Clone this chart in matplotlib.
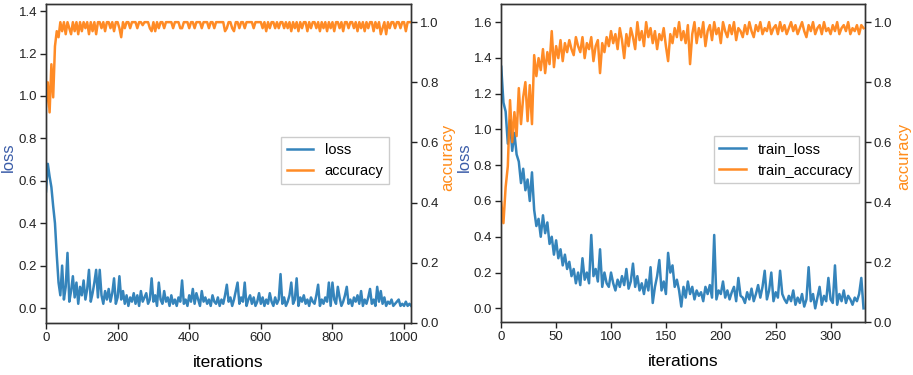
import numpy as np
import matplotlib.pyplot as plt

plt.rcParams['font.family'] = ['Liberation Sans', 'DejaVu Sans']

# left run: 1000+ iterations, read every 5 iterations
it_a = np.arange(0, 1021, 5)
loss_a = [
    0.55, 0.68, 0.62, 0.57, 0.48, 0.40, 0.25, 0.12, 0.06, 0.20,
    0.04, 0.10, 0.26, 0.03, 0.08, 0.15, 0.05, 0.12, 0.02, 0.10,
    0.06, 0.13, 0.04, 0.09, 0.18, 0.03, 0.07, 0.12, 0.18, 0.05,
    0.18, 0.06, 0.02, 0.08, 0.04, 0.09, 0.03, 0.07, 0.14, 0.02,
    0.05, 0.15, 0.04, 0.08, 0.02, 0.06, 0.01, 0.05, 0.03, 0.07,
    0.02, 0.06, 0.01, 0.08, 0.03, 0.05, 0.07, 0.02, 0.04, 0.14,
    0.03, 0.06, 0.01, 0.12, 0.04, 0.02, 0.08, 0.03, 0.05, 0.01,
    0.06, 0.02, 0.04, 0.01, 0.05, 0.03, 0.13, 0.02, 0.04, 0.01,
    0.06, 0.03, 0.09, 0.02, 0.07, 0.04, 0.01, 0.08, 0.03, 0.05,
    0.02, 0.04, 0.01, 0.06, 0.03, 0.02, 0.05, 0.01, 0.04, 0.02,
    0.06, 0.11, 0.03, 0.05, 0.01, 0.04, 0.08, 0.12, 0.02, 0.05,
    0.03, 0.12, 0.01, 0.04, 0.06, 0.02, 0.05, 0.01, 0.03, 0.07,
    0.02, 0.05, 0.01, 0.04, 0.02, 0.07, 0.03, 0.01, 0.05, 0.02,
    0.04, 0.16, 0.02, 0.05, 0.01, 0.03, 0.06, 0.12, 0.02, 0.04,
    0.14, 0.01, 0.05, 0.03, 0.06, 0.02, 0.04, 0.01, 0.05, 0.03,
    0.02, 0.06, 0.11, 0.01, 0.04, 0.02, 0.05, 0.03, 0.12, 0.01,
    0.12, 0.04, 0.02, 0.10, 0.05, 0.01, 0.03, 0.06, 0.10, 0.02,
    0.04, 0.01, 0.05, 0.03, 0.06, 0.02, 0.08, 0.01, 0.04, 0.02,
    0.05, 0.09, 0.02, 0.04, 0.01, 0.10, 0.03, 0.08, 0.02, 0.05,
    0.01, 0.03, 0.02, 0.04, 0.01, 0.02, 0.03, 0.04, 0.01, 0.02,
    0.01, 0.03, 0.01, 0.02, 0.01,
]
acc_a = [
    0.72, 0.80, 0.70, 0.86, 0.75, 0.92, 0.97, 0.95, 1.00, 0.97,
    1.00, 0.96, 1.00, 0.98, 0.96, 1.00, 0.97, 1.00, 0.96, 1.00,
    0.97, 1.00, 0.98, 1.00, 0.96, 1.00, 0.97, 1.00, 0.96, 1.00,
    1.00, 0.98, 1.00, 0.97, 1.00, 1.00, 0.98, 1.00, 0.97, 1.00,
    1.00, 0.98, 0.95, 1.00, 0.98, 1.00, 1.00, 0.98, 1.00, 1.00,
    1.00, 0.98, 1.00, 1.00, 0.99, 1.00, 1.00, 1.00, 0.98, 0.97,
    1.00, 0.97, 1.00, 0.98, 1.00, 1.00, 0.98, 1.00, 1.00, 1.00,
    1.00, 0.98, 1.00, 1.00, 1.00, 0.98, 0.98, 1.00, 1.00, 1.00,
    0.98, 1.00, 1.00, 0.98, 1.00, 1.00, 1.00, 0.98, 1.00, 1.00,
    1.00, 0.98, 1.00, 1.00, 0.98, 1.00, 1.00, 1.00, 1.00, 1.00,
    0.97, 0.98, 1.00, 1.00, 0.98, 0.97, 1.00, 1.00, 0.98, 1.00,
    1.00, 0.98, 1.00, 1.00, 1.00, 1.00, 0.98, 1.00, 1.00, 1.00,
    1.00, 0.98, 1.00, 0.97, 1.00, 0.98, 1.00, 1.00, 0.98, 1.00,
    0.98, 1.00, 1.00, 0.98, 1.00, 0.98, 1.00, 0.97, 1.00, 0.98,
    1.00, 0.97, 1.00, 0.98, 1.00, 1.00, 0.97, 1.00, 0.98, 1.00,
    1.00, 0.98, 1.00, 0.97, 1.00, 0.98, 1.00, 0.97, 1.00, 0.98,
    1.00, 0.97, 1.00, 1.00, 0.98, 1.00, 0.97, 1.00, 1.00, 0.98,
    1.00, 1.00, 0.98, 1.00, 0.97, 1.00, 0.98, 1.00, 0.97, 1.00,
    0.98, 1.00, 1.00, 0.97, 1.00, 0.98, 1.00, 0.96, 0.98, 1.00,
    0.96, 1.00, 0.98, 1.00, 1.00, 0.98, 1.00, 1.00, 0.98, 1.00,
    1.00, 0.97, 1.00, 1.00, 1.00,
]

# right run: ~330 iterations, read every 2 iterations
it_b = np.arange(0, 331, 2)
loss_b = [
    1.35, 1.15, 1.10, 0.92, 1.05, 0.88, 0.98, 0.86, 0.82, 0.70, 0.78,
    0.66, 0.72, 0.60, 0.76, 0.55, 0.46, 0.50, 0.40, 0.52, 0.42,
    0.48, 0.36, 0.40, 0.30, 0.38, 0.28, 0.33, 0.24, 0.30, 0.22,
    0.26, 0.18, 0.22, 0.14, 0.20, 0.13, 0.28, 0.16, 0.20, 0.14,
    0.41, 0.18, 0.22, 0.15, 0.33, 0.12, 0.20, 0.14, 0.12, 0.20,
    0.14, 0.10, 0.16, 0.12, 0.18, 0.13, 0.22, 0.11, 0.15, 0.25,
    0.12, 0.18, 0.10, 0.14, 0.08, 0.16, 0.10, 0.23, 0.03, 0.12,
    0.18, 0.27, 0.10, 0.15, 0.08, 0.31, 0.20, 0.24, 0.12, 0.16,
    0.10, 0.01, 0.12, 0.06, 0.15, 0.08, 0.12, 0.05, 0.10, 0.07,
    0.09, 0.04, 0.12, 0.08, 0.13, 0.06, 0.41, 0.05, 0.10, 0.08,
    0.15, 0.06, 0.10, 0.05, 0.09, 0.12, 0.04, 0.17, 0.07, 0.06,
    0.03, 0.09, 0.05, 0.11, 0.04, 0.08, 0.13, 0.06, 0.12, 0.21,
    0.05, 0.10, 0.20, 0.04, 0.09, 0.06, 0.21, 0.08, 0.05, 0.03,
    0.07, 0.04, 0.10, 0.02, 0.06, 0.03, 0.08, 0.01, 0.05, 0.23,
    0.04, 0.08, 0.00, 0.06, 0.12, 0.02, 0.07, 0.04, 0.17, 0.05,
    0.03, 0.24, 0.02, 0.08, 0.04, 0.10, 0.03, 0.07, 0.05, 0.02,
    0.06, 0.04, 0.08, 0.17, 0.00,
]
acc_b = [
    0.40, 0.33, 0.45, 0.52, 0.74, 0.60, 0.70, 0.62, 0.78, 0.66, 0.75,
    0.80, 0.67, 0.79, 0.66, 0.89, 0.82, 0.88, 0.84, 0.91, 0.83,
    0.90, 0.86, 0.97, 0.85, 0.92, 0.88, 0.94, 0.87, 0.93, 0.90,
    0.94, 0.91, 0.89, 0.95, 0.92, 0.90, 0.95, 0.88, 0.93, 0.91,
    0.95, 0.87, 0.92, 0.94, 0.83, 0.93, 0.90, 0.95, 0.92, 0.97,
    0.93, 0.96, 0.91, 0.98, 0.94, 0.88, 0.96, 0.92, 0.98, 0.95,
    0.91, 1.00, 0.94, 0.97, 0.92, 1.00, 0.95, 0.98, 0.93, 0.97,
    0.91, 0.96, 0.94, 0.98, 0.92, 0.87, 0.96, 0.93, 0.98, 0.95,
    1.00, 0.94, 0.97, 0.93, 0.99, 0.86, 0.96, 1.00, 0.93, 0.98,
    0.95, 1.00, 0.92, 0.97, 0.99, 0.94, 1.00, 0.96, 0.98, 0.93,
    1.00, 0.97, 0.95, 0.99, 0.96, 1.00, 0.94, 0.98, 0.97, 0.95,
    0.99, 0.96, 1.00, 0.97, 0.95, 0.99, 0.97, 1.00, 0.96, 0.98,
    0.97, 1.00, 0.96, 0.98, 0.99, 0.96, 1.00, 0.97, 0.99, 0.96,
    0.98, 1.00, 0.97, 0.99, 0.96, 0.98, 1.00, 0.97, 0.95, 0.99,
    0.97, 1.00, 0.96, 0.98, 0.99, 0.96, 1.00, 0.97, 0.98, 0.96,
    0.99, 0.97, 1.00, 0.96, 0.98, 0.99, 0.97, 1.00, 0.96, 0.98,
    0.97, 0.99, 0.96, 0.99, 0.98,
]

c_loss = '#1f77b4'
c_acc = '#ff7f0e'

fig = plt.figure(figsize=(9.13, 3.75), dpi=100)
ax1 = fig.add_axes([0.0504, 0.139, 0.400, 0.850])
ax2 = fig.add_axes([0.5490, 0.141, 0.398, 0.848])

panels = [
    (ax1, it_a, loss_a, acc_a, 'loss', 'accuracy', (0, 1020), (-0.07, 1.433), 0.94, 1.079),
    (ax2, it_b, loss_b, acc_b, 'train_loss', 'train_accuracy', (0, 331), (-0.077, 1.70), 0.984, 1.088),
]

for ax, x, l, a, ln, an, xl, yl, lx, rx in panels:
    tw = ax.twinx()
    h1, = ax.plot(x, l, color=c_loss, lw=1.8, alpha=0.9, label=ln)
    h2, = tw.plot(x, a, color=c_acc, lw=1.8, alpha=0.9, label=an)
    ax.set_xlim(*xl)
    ax.set_ylim(*yl)
    tw.set_ylim(0, 1.06)
    ax.set_xlabel('iterations', fontsize=12.5, labelpad=8)
    ax.set_ylabel('loss', fontsize=12, color='#3a5ca8')
    tw.set_ylabel('accuracy', fontsize=12, color='#ff8c1a')
    ax.yaxis.set_label_coords(-0.082, 0.52)
    tw.yaxis.set_label_coords(rx, 0.52)
    for a_ in (ax, tw):
        a_.tick_params(direction='out', length=4, width=1, pad=2.5,
                       labelsize=9.5, colors='#222222')
        for s in a_.spines.values():
            s.set_color('#333333')
            s.set_linewidth(1)
    ax.legend([h1, h2], [ln, an], loc='center right', bbox_to_anchor=(lx, 0.51),
              borderaxespad=0, fontsize=10.5, fancybox=False, edgecolor='#cccccc',
              framealpha=1, handlelength=1.8)

fig.savefig('out.png', dpi=100)
